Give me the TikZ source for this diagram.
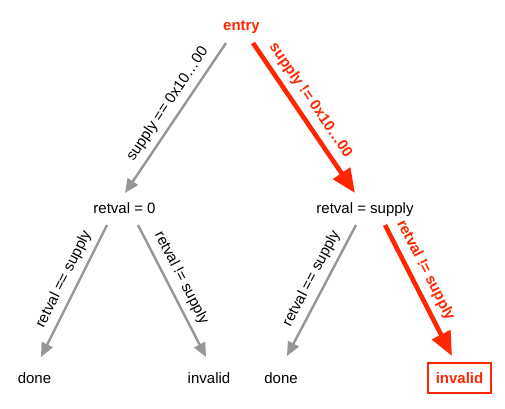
\documentclass[tikz,border=0pt]{standalone}
\usepackage{fontspec}
\setmainfont{Liberation Sans}
\usetikzlibrary{arrows.meta}
\definecolor{ogred}{RGB}{255,38,0}
\definecolor{oggray}{RGB}{150,150,150}
\begin{document}
\begin{tikzpicture}[x=1pt,y=-1pt,
  txt/.style={font=\fontsize{15}{18}\selectfont, inner sep=0pt, anchor=base},
  redtxt/.style={txt, text=ogred, font=\fontsize{15}{18}\selectfont\bfseries},
  grayarr/.style={draw=oggray, line width=2.4pt, -{Triangle[length=14pt,width=12pt]}},
  redarr/.style={draw=ogred, line width=4.6pt, -{Triangle[length=24pt,width=20pt]}},
  glbl/.style={font=\fontsize{15}{18}\selectfont, sloped, above=4pt, inner sep=2pt},
  rlbl/.style={glbl, text=ogred, font=\fontsize{15}{18}\selectfont\bfseries}]
\useasboundingbox (0,0) rectangle (505,408);

% nodes
\node[redtxt] (entry) at (241.5,30) {entry};
\node[txt] (r0) at (124.5,213) {retval = 0};
\node[txt] (rs) at (365,213) {retval = supply};
\node[txt] (d1) at (34.5,383) {done};
\node[txt] (i1) at (209,383) {invalid};
\node[txt] (d2) at (281,383) {done};
\node[draw=ogred, line width=2pt, text=ogred, font=\fontsize{15}{18}\selectfont\bfseries,
      minimum width=63pt, minimum height=30pt, inner sep=0pt] (i2) at (459.5,378) {invalid};

% connector end points
\coordinate (e1) at (226,43);   \coordinate (e1t) at (125,193);
\coordinate (e2) at (253,43);   \coordinate (e2t) at (355,193);
\coordinate (a1) at (107,225);  \coordinate (a1t) at (41,357);
\coordinate (a2) at (138,225);  \coordinate (a2t) at (206,357);
\coordinate (b1) at (356,225);  \coordinate (b1t) at (287,356);
\coordinate (b2) at (385,225);  \coordinate (b2t) at (452,356);

\draw[grayarr] (e1) -- node[glbl, pos=.46] {supply == 0x10…00} (e1t);
\draw[redarr]  (e2) -- node[rlbl, pos=.44] {supply != 0x10…00} (e2t);
\draw[grayarr] (a1) -- node[glbl, pos=.46] {retval == supply} (a1t);
\draw[grayarr] (a2) -- node[glbl, pos=.45] {retval != supply} (a2t);
\draw[grayarr] (b1) -- node[glbl, pos=.46] {retval == supply} (b1t);
\draw[redarr]  (b2) -- node[rlbl, pos=.40] {retval != supply} (b2t);
\end{tikzpicture}
\end{document}
